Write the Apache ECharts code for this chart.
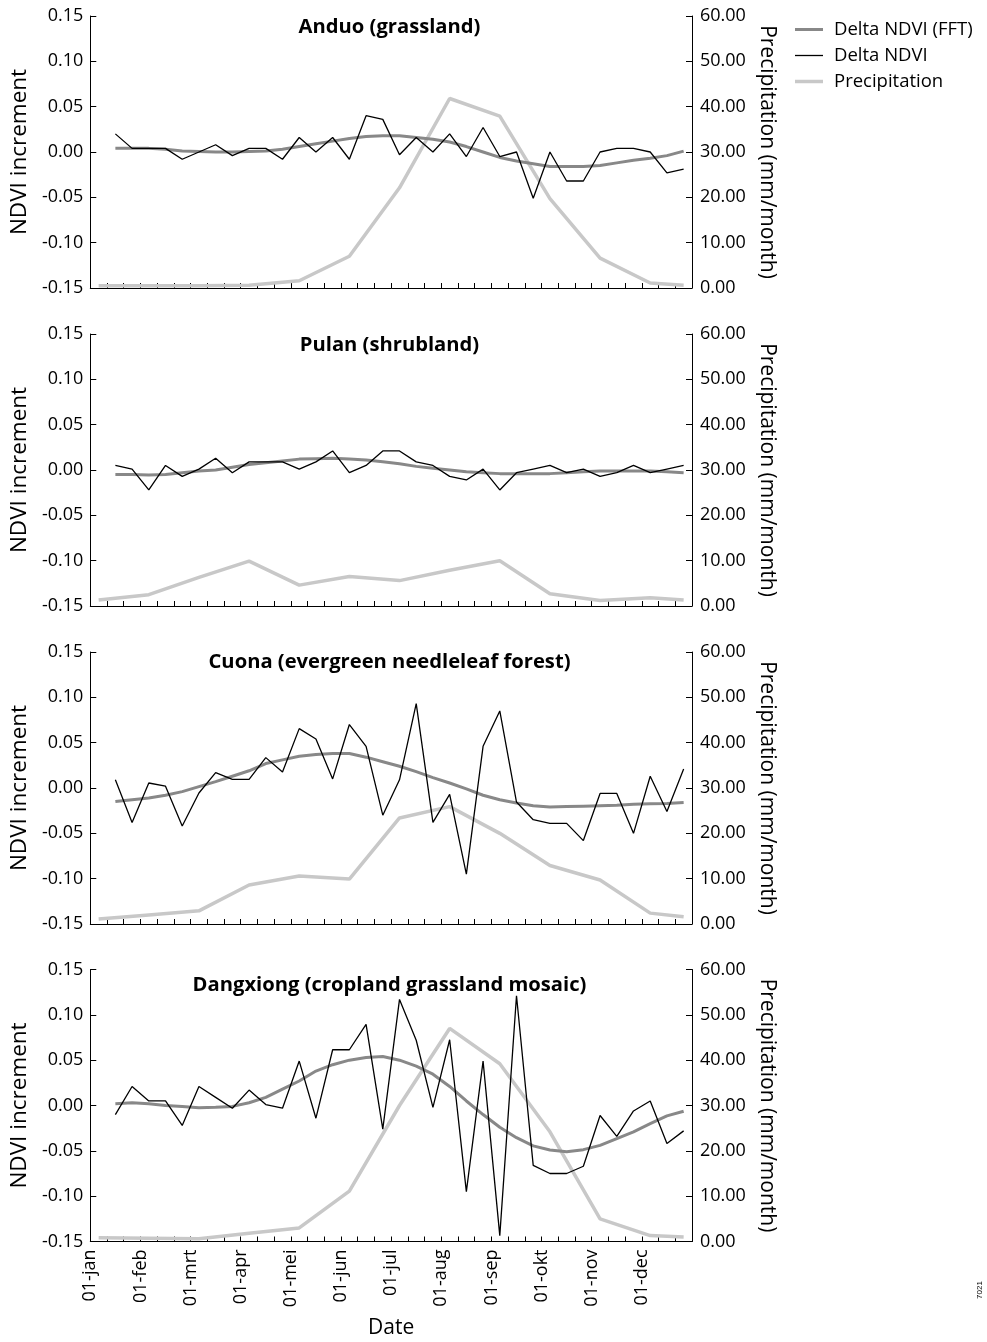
<!DOCTYPE html>
<html>
<head>
<meta charset="utf-8">
<script src="https://cdn.jsdelivr.net/npm/echarts@6/dist/echarts.min.js"></script>
<style>
  html, body { margin: 0; padding: 0; background: #ffffff; }
  #chart { width: 987px; height: 1342px; }
</style>
</head>
<body>
<div id="chart"></div>
<script>
// Month tick labels, one every third dekad (10-day period)
const monthLabels = ['01-jan', '01-feb', '01-mrt', '01-apr', '01-mei', '01-jun',
                     '01-jul', '01-aug', '01-sep', '01-okt', '01-nov', '01-dec'];
const dekadCount = 36;

const siteTitles = ['Anduo (grassland)', 'Pulan (shrubland)',
                    'Cuona (evergreen needleleaf forest)', 'Dangxiong (cropland grassland mosaic)'];

// NDVI increments for dekads 2..36 (first dekad has no increment)
const ndviFirstDekad = 1;

const anduoNdvi = [0.020, 0.004, 0.004, 0.004, -0.008, 0.000, 0.008, -0.004, 0.004, 0.004,
                   -0.008, 0.016, 0.000, 0.016, -0.008, 0.040, 0.036, -0.003, 0.016, 0.000,
                   0.020, -0.005, 0.027, -0.005, 0.000, -0.051, 0.000, -0.032, -0.032, 0.000,
                   0.004, 0.004, 0.000, -0.023, -0.019];
const anduoFft = [0.004, 0.004, 0.004, 0.003, 0.001, 0.0005, 0.000, 0.000, 0.0005, 0.001,
                  0.003, 0.006, 0.009, 0.012, 0.015, 0.017, 0.018, 0.018, 0.016, 0.014,
                  0.011, 0.006, 0.000, -0.006, -0.010, -0.013, -0.016, -0.016, -0.016, -0.015,
                  -0.012, -0.009, -0.007, -0.004, 0.001];

const pulanNdvi = [0.005, 0.001, -0.022, 0.005, -0.007, 0.001, 0.013, -0.003, 0.009, 0.009,
                   0.009, 0.001, 0.009, 0.021, -0.003, 0.005, 0.021, 0.021, 0.009, 0.005,
                   -0.007, -0.011, 0.001, -0.022, -0.003, 0.001, 0.005, -0.003, 0.001, -0.007,
                   -0.003, 0.005, -0.003, 0.001, 0.005];
const pulanFft = [-0.005, -0.005, -0.0055, -0.005, -0.003, -0.001, 0.000, 0.003, 0.006, 0.008,
                  0.010, 0.012, 0.0125, 0.013, 0.012, 0.011, 0.009, 0.007, 0.004, 0.002,
                  0.000, -0.002, -0.003, -0.004, -0.004, -0.004, -0.004, -0.003, -0.002, -0.001,
                  -0.001, -0.001, -0.001, -0.002, -0.003];

const cuonaNdvi = [0.009, -0.038, 0.0055, 0.002, -0.042, -0.0055, 0.017, 0.0096, 0.0096, 0.0335,
                   0.0177, 0.0655, 0.054, 0.010, 0.070, 0.046, -0.030, 0.009, 0.093, -0.038,
                   -0.007, -0.095, 0.046, 0.085, -0.0155, -0.035, -0.039, -0.039, -0.058, -0.006,
                   -0.006, -0.050, 0.013, -0.026, 0.021];
const cuonaFft = [-0.015, -0.013, -0.011, -0.008, -0.004, 0.0015, 0.007, 0.013, 0.019, 0.027,
                  0.031, 0.035, 0.037, 0.038, 0.038, 0.034, 0.029, 0.024, 0.018, 0.0115,
                  0.0055, -0.001, -0.008, -0.013, -0.0165, -0.0195, -0.021, -0.0205, -0.020, -0.0195,
                  -0.019, -0.018, -0.0173, -0.017, -0.016];

const dangxiongNdvi = [-0.010, 0.021, 0.005, 0.005, -0.022, 0.021, 0.009, -0.003, 0.017, 0.001,
                       -0.003, 0.049, -0.014, 0.0615, 0.0615, 0.0895, -0.026, 0.117, 0.072, -0.002,
                       0.0725, -0.095, 0.049, -0.1435, 0.121, -0.066, -0.075, -0.075, -0.067, -0.011,
                       -0.034, -0.006, 0.005, -0.042, -0.028];
const dangxiongFft = [0.002, 0.003, 0.002, 0.000, -0.001, -0.0025, -0.002, -0.001, 0.003, 0.009,
                      0.018, 0.027, 0.038, 0.045, 0.050, 0.053, 0.054, 0.050, 0.0435, 0.0345,
                      0.021, 0.005, -0.010, -0.024, -0.0355, -0.0445, -0.049, -0.051, -0.0487, -0.044,
                      -0.0365, -0.029, -0.020, -0.0115, -0.0063];

// Monthly precipitation (mm/month), given on the first dekad of each month plus the last dekad
const precipDekads = [0, 3, 6, 9, 12, 15, 18, 21, 24, 27, 30, 33, 35];
const anduoPrecip = [0.5, 0.5, 0.5, 0.6, 1.6, 7.0, 22.1, 41.8, 37.9, 19.7, 6.6, 1.1, 0.6];
const pulanPrecip = [1.3, 2.5, 6.3, 9.9, 4.6, 6.5, 5.6, 7.9, 10.0, 2.7, 1.2, 1.8, 1.3];
const cuonaPrecip = [1.1, 2.0, 2.9, 8.6, 10.6, 9.9, 23.4, 25.9, 20.0, 12.9, 9.7, 2.4, 1.6];
const dangxiongPrecip = [0.8, 0.7, 0.6, 1.8, 3.0, 11.1, 30.0, 47.0, 39.2, 24.2, 5.0, 1.3, 1.0];

const ndviSets = [anduoNdvi, pulanNdvi, cuonaNdvi, dangxiongNdvi];
const fftSets = [anduoFft, pulanFft, cuonaFft, dangxiongFft];
const precipSets = [anduoPrecip, pulanPrecip, cuonaPrecip, dangxiongPrecip];

const seriesNames = ['Delta NDVI (FFT)', 'Delta NDVI', 'Precipitation'];

// Line looks shared by the series and their legend keys
const seriesColors = ['#888888', '#000000', '#c8c8c8'];
const seriesWidths = [3, 1.3, 3.5];

// Layout of the four stacked panels
const panelTops = [16, 334, 652, 969.5];
const panelHeight = 272;
const plotLeft = 87;
const plotRight = 295;
const titleCenters = [27, 345, 662, 985];

const FONT = '"Open Sans", "Noto Sans", sans-serif';

// Points sit at the middle of their dekad
const dekadPoints = (values, firstDekad) => values.map((v, i) => [firstDekad + i + 0.5, v]);
const precipPoints = (values) => values.map((v, i) => [precipDekads[i] + 0.5, v]);

const fmt2 = (v) => (Math.abs(v) < 1e-9 ? 0 : v).toFixed(2);

const grids = panelTops.map(t => ({ left: plotLeft, right: plotRight, top: t, height: panelHeight }));

const xAxes = panelTops.map((t, i) => ({
  type: 'value',
  gridIndex: i,
  min: 0,
  max: dekadCount,
  interval: 1,
  axisLine: { show: true, onZero: false, lineStyle: { color: '#000', width: 1 } },
  axisTick: { show: true, inside: true, length: 5, lineStyle: { color: '#000', width: 1 } },
  splitLine: { show: false },
  axisLabel: i === 3 ? {
    show: true,
    rotate: 90,
    margin: 8,
    color: '#000',
    fontFamily: FONT,
    fontSize: 18,
    formatter: (v) => (v % 3 === 0 && v / 3 < monthLabels.length) ? monthLabels[v / 3] : ''
  } : { show: false },
  name: i === 3 ? 'Date' : '',
  nameLocation: 'middle',
  nameGap: 76,
  nameTextStyle: { color: '#000', fontFamily: FONT, fontSize: 21 }
}));

const yAxes = [];
panelTops.forEach((t, i) => {
  yAxes.push({
    type: 'value',
    gridIndex: i,
    position: 'left',
    min: -0.15,
    max: 0.15,
    interval: 0.05,
    axisLine: { show: true, lineStyle: { color: '#000', width: 1 } },
    axisTick: { show: true, inside: true, length: 6, lineStyle: { color: '#000', width: 1 } },
    splitLine: { show: false },
    axisLabel: { color: '#000', fontFamily: FONT, fontSize: 18, margin: 7, formatter: fmt2 },
    name: 'NDVI increment',
    nameLocation: 'middle',
    nameGap: 54,
    nameTextStyle: { color: '#000', fontFamily: FONT, fontSize: 22.5 }
  });
  yAxes.push({
    type: 'value',
    gridIndex: i,
    position: 'right',
    min: 0,
    max: 60,
    interval: 10,
    axisLine: { show: true, lineStyle: { color: '#000', width: 1 } },
    axisTick: { show: true, inside: true, length: 6, lineStyle: { color: '#000', width: 1 } },
    splitLine: { show: false },
    axisLabel: { color: '#000', fontFamily: FONT, fontSize: 18, margin: 8, formatter: fmt2 },
    name: 'Precipitation (mm/month)',
    nameLocation: 'middle',
    nameRotate: -90,
    nameGap: 61,
    nameTextStyle: { color: '#000', fontFamily: FONT, fontSize: 21 }
  });
});

const series = [];
panelTops.forEach((t, i) => {
  series.push({
    name: seriesNames[2], type: 'line', xAxisIndex: i, yAxisIndex: 2 * i + 1,
    symbol: 'none', z: 2,
    lineStyle: { color: seriesColors[2], width: seriesWidths[2] }, itemStyle: { color: seriesColors[2] },
    data: precipPoints(precipSets[i])
  });
  series.push({
    name: seriesNames[0], type: 'line', xAxisIndex: i, yAxisIndex: 2 * i,
    symbol: 'none', z: 3,
    lineStyle: { color: seriesColors[0], width: seriesWidths[0] }, itemStyle: { color: seriesColors[0] },
    data: dekadPoints(fftSets[i], ndviFirstDekad)
  });
  series.push({
    name: seriesNames[1], type: 'line', xAxisIndex: i, yAxisIndex: 2 * i,
    symbol: 'none', z: 4,
    lineStyle: { color: seriesColors[1], width: seriesWidths[1] }, itemStyle: { color: seriesColors[1] },
    data: dekadPoints(ndviSets[i], ndviFirstDekad)
  });
});

const titles = siteTitles.map((s, i) => ({
  text: s,
  left: plotLeft + (987 - plotLeft - plotRight) / 2,
  textAlign: 'center',
  top: titleCenters[i] - 12,
  padding: 0,
  textStyle: { color: '#000', fontFamily: FONT, fontSize: 20.2, fontWeight: 'bold', lineHeight: 24 }
}));

// Legend keys drawn as plain strokes of each series' thickness
const legendData = seriesNames.map((n, i) => ({
  name: n,
  icon: 'path://M0,0H28V' + seriesWidths[i] + 'H0Z',
  itemStyle: { color: seriesColors[i], borderWidth: 0 }
}));

const chart = echarts.init(document.getElementById('chart'));
chart.setOption({
  animation: false,
  backgroundColor: '#ffffff',
  title: titles,
  legend: {
    orient: 'vertical',
    left: 790,
    top: 15,
    itemWidth: 28,
    itemHeight: 14,
    itemGap: 7,
    symbolKeepAspect: true,
    data: legendData,
    textStyle: { color: '#000', fontFamily: FONT, fontSize: 18.5, padding: [0, 0, 0, 6] }
  },
  grid: grids,
  xAxis: xAxes,
  yAxis: yAxes,
  series: series,
  graphic: [{
    type: 'text',
    x: 980,
    y: 1290,
    rotation: Math.PI / 2,
    style: { text: '7021', font: '8px "Liberation Sans", sans-serif', fill: '#000', textAlign: 'center', textVerticalAlign: 'middle' }
  }]
});
</script>
</body>
</html>
